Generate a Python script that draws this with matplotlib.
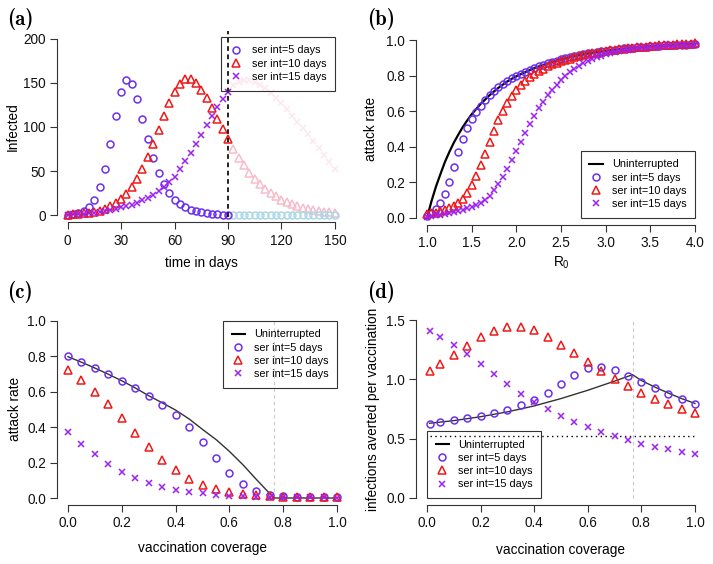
import numpy as np
import matplotlib
matplotlib.use("Agg")
import matplotlib.pyplot as plt
from matplotlib.lines import Line2D

plt.rcParams['font.family'] = ['Liberation Sans', 'DejaVu Sans']
plt.rcParams['mathtext.fontset'] = 'custom'
plt.rcParams['mathtext.rm'] = 'Liberation Sans'
plt.rcParams['mathtext.it'] = 'Liberation Sans:italic'

# ---------------- data ----------------
# (a) epidemic curves
time_dark = list(range(0, 91, 3))
time_light = list(range(93, 151, 3))
inf5_dark = [1, 1.5, 2.5, 5.5, 10, 18, 32, 52, 81, 112, 140, 153, 149, 132, 109, 86, 65,
             48, 35, 25, 18, 13, 9, 6.5, 5, 3.5, 2.5, 2, 1.5, 1, 0.8]
inf5_light = [0.6, 0.5, 0.4, 0.3, 0.25, 0.2, 0.15, 0.12, 0.1, 0.08, 0.06, 0.05, 0.04,
              0.03, 0.02, 0.02, 0.01, 0.01, 0.01, 0.01]
inf10_dark = [1, 1.1, 1.5, 2.2, 3, 4, 5.5, 7.5, 10.5, 14, 18.5, 24, 32, 41, 53, 66.5, 81,
              97, 112.5, 127.5, 140, 149, 154, 154, 150, 141.5, 133, 121.5, 109, 98, 86]
inf10_light = [75.5, 65.5, 56.5, 48.5, 41.5, 35.5, 30, 25.5, 21.5, 18, 15, 12.5, 10.5,
               8.7, 7.2, 6, 5, 4.2, 3.4, 2.8]
inf15_dark = [0.8, 1.1, 1.5, 2, 2.6, 3.3, 4.2, 5.2, 6.3, 7.6, 9, 10.5, 12.3, 14.5, 17, 20,
              23.5, 27.5, 32, 37.5, 44, 52, 61, 70.5, 80.5, 91, 102, 113, 122.5, 131.5, 140]
inf15_light = [147, 151, 153, 153, 151, 148, 144, 139, 133, 127, 120, 113, 106, 99, 92,
               84, 76, 68, 60, 52]

# (b) attack rate vs R0
R0 = np.round(np.arange(1.0, 4.0001, 0.05), 2)
ar5 = [0.01, 0.026, 0.05, 0.082, 0.132, 0.2, 0.285, 0.368, 0.443, 0.505, 0.557, 0.597,
       0.632, 0.664, 0.69, 0.714, 0.735, 0.754, 0.77, 0.785, 0.798, 0.81, 0.822, 0.833,
       0.843, 0.852, 0.861, 0.869, 0.877, 0.884, 0.891, 0.898, 0.904, 0.91, 0.915, 0.92,
       0.925, 0.929, 0.933, 0.937, 0.94, 0.944, 0.947, 0.95, 0.953, 0.955, 0.958, 0.96,
       0.962, 0.964, 0.966, 0.967, 0.969, 0.97, 0.971, 0.972, 0.973, 0.974, 0.975, 0.976,
       0.977]
ar10 = [0.02, 0.025, 0.03, 0.037, 0.045, 0.055, 0.068, 0.085, 0.108, 0.138, 0.185, 0.238,
        0.3, 0.362, 0.425, 0.49, 0.548, 0.6, 0.646, 0.685, 0.718, 0.746, 0.77, 0.792, 0.81,
        0.826, 0.84, 0.852, 0.863, 0.872, 0.881, 0.889, 0.896, 0.903, 0.909, 0.915, 0.92,
        0.925, 0.93, 0.934, 0.938, 0.942, 0.945, 0.948, 0.951, 0.954, 0.957, 0.959, 0.962,
        0.964, 0.966, 0.968, 0.97, 0.972, 0.973, 0.975, 0.976, 0.978, 0.979, 0.98, 0.981]
ar15 = [0.005, 0.01, 0.014, 0.018, 0.022, 0.027, 0.032, 0.038, 0.045, 0.053, 0.062, 0.073,
        0.086, 0.103, 0.125, 0.155, 0.19, 0.23, 0.277, 0.326, 0.376, 0.428, 0.48, 0.53,
        0.575, 0.616, 0.654, 0.69, 0.72, 0.748, 0.773, 0.797, 0.818, 0.837, 0.854, 0.869,
        0.882, 0.894, 0.904, 0.913, 0.921, 0.927, 0.933, 0.938, 0.942, 0.946, 0.95, 0.953,
        0.956, 0.958, 0.96, 0.962, 0.964, 0.966, 0.967, 0.969, 0.97, 0.971, 0.972, 0.973,
        0.974]
R0_line = [1.0, 1.05, 1.1, 1.15, 1.2, 1.25, 1.3, 1.35, 1.4, 1.45, 1.5, 1.6, 1.7, 1.8, 1.9,
           2.0, 2.2, 2.4, 2.6, 2.8, 3.0, 3.25, 3.5, 3.75, 4.0]
ar_line = [0, 0.094, 0.176, 0.246, 0.314, 0.371, 0.423, 0.468, 0.511, 0.548, 0.583, 0.641,
           0.690, 0.732, 0.768, 0.797, 0.843, 0.877, 0.905, 0.925, 0.940, 0.954, 0.966,
           0.974, 0.980]

# (c) attack rate vs vaccination coverage
vc = np.round(np.arange(0, 1.0001, 0.05), 2)
c5 = [0.799, 0.767, 0.733, 0.697, 0.66, 0.618, 0.573, 0.524, 0.466, 0.398, 0.316, 0.226,
      0.141, 0.079, 0.041, 0.019, 0.009, 0.006, 0.005, 0.004, 0.003]
c10 = [0.72, 0.665, 0.6, 0.528, 0.451, 0.368, 0.289, 0.216, 0.156, 0.109, 0.075, 0.051,
       0.034, 0.023, 0.016, 0.011, 0.007, 0.005, 0.004, 0.003, 0.003]
c15 = [0.372, 0.306, 0.246, 0.192, 0.148, 0.113, 0.086, 0.062, 0.047, 0.036, 0.026, 0.019,
       0.013, 0.01, 0.008, 0.006, 0.005, 0.004, 0.003, 0.003, 0.002]
vc_line = [0, 0.05, 0.1, 0.15, 0.2, 0.25, 0.3, 0.35, 0.4, 0.45, 0.5, 0.55, 0.6, 0.65, 0.7,
           0.75, 0.767, 0.8, 0.9, 1.0]
c_line = [0.797, 0.766, 0.733, 0.698, 0.661, 0.621, 0.577, 0.537, 0.496, 0.446, 0.387,
          0.33, 0.263, 0.188, 0.105, 0.025, 0, 0, 0, 0]
v_crit = 0.767

# (d) infections averted per vaccination
vd = [0.01] + list(np.round(np.arange(0.05, 1.0001, 0.05), 2))
d5 = [0.626, 0.638, 0.654, 0.671, 0.692, 0.714, 0.744, 0.781, 0.824, 0.885, 0.961, 1.038,
      1.093, 1.104, 1.08, 1.031, 0.979, 0.927, 0.879, 0.836, 0.793]
d10 = [1.07, 1.13, 1.203, 1.282, 1.353, 1.41, 1.443, 1.443, 1.415, 1.361, 1.292, 1.219,
       1.142, 1.07, 1.002, 0.941, 0.885, 0.834, 0.793, 0.752, 0.715]
d15 = [1.405, 1.358, 1.288, 1.211, 1.126, 1.042, 0.961, 0.88, 0.807, 0.748, 0.689, 0.639,
       0.596, 0.554, 0.52, 0.487, 0.458, 0.431, 0.41, 0.389, 0.368]
vd_line = [0.01, 0.1, 0.2, 0.3, 0.4, 0.5, 0.6, 0.7, 0.767, 0.8, 0.85, 0.9, 0.95, 1.0]
d_line = [0.63, 0.652, 0.685, 0.726, 0.776, 0.838, 0.908, 0.985, 1.039, 0.99, 0.935, 0.885,
          0.838, 0.797]
d_ref = 0.52

labels = ['ser int=5 days', 'ser int=10 days', 'ser int=15 days']

# ---------------- style ----------------
C5 = '#6a2ff0'
C10 = '#f01818'
C15 = '#a020f0'
L5 = '#add8e6'
L10 = '#f8bccb'
L15 = '#fde8ee'
AX = '#333333'

W, H = 713, 564
fig = plt.figure(figsize=(W / 100, H / 100), dpi=100)


def make_ax(left, right, top, bottom):
    return fig.add_axes([left / W, 1 - bottom / H, (right - left) / W, (bottom - top) / H])


def style(ax, xt, yt, xfmt, yfmt):
    for s in ['top', 'right']:
        ax.spines[s].set_visible(False)
    for s in ['left', 'bottom']:
        ax.spines[s].set_color(AX)
        ax.spines[s].set_linewidth(0.8)
    ax.spines['bottom'].set_bounds(xt[0], xt[-1])
    ax.spines['left'].set_bounds(yt[0], yt[-1])
    ax.set_xticks(xt)
    ax.set_yticks(yt)
    ax.set_xticklabels([xfmt.format(v) for v in xt])
    ax.set_yticklabels([yfmt.format(v) for v in yt])
    ax.tick_params(direction='out', length=5, width=0.8, color=AX, labelsize=9.8,
                   pad=3, labelcolor='#111111')


mk = dict(linestyle='none', markerfacecolor='none', markeredgewidth=1.1)


def legend(ax, with_line, anchor, loc):
    handles = []
    if with_line:
        handles.append(Line2D([], [], color='black', lw=1.5))
    handles += [Line2D([], [], marker='o', color=C5, markersize=5, **mk),
                Line2D([], [], marker='^', color=C10, markersize=6, **mk),
                Line2D([], [], marker='x', color=C15, markersize=5, **mk)]
    labs = (['Uninterrupted'] if with_line else []) + labels
    lg = ax.legend(handles, labs, loc=loc, bbox_to_anchor=anchor,
                   bbox_transform=ax.transData, borderaxespad=0, fontsize=7.8,
                   frameon=True, fancybox=False, edgecolor=AX,
                   handlelength=1.25, handletextpad=0.8,
                   borderpad=0.8, labelspacing=0.3)
    fr = lg.get_frame()
    fr.set_alpha(None)
    fr.set_linewidth(0.8)
    fr.set_facecolor('none')
    fr.set_edgecolor(AX)
    return lg


# ---------------- (a) ----------------
ax = make_ax(57, 345.5, 31.5, 222.5)
ax.plot(time_light, inf15_light, marker='x', color=L15, markersize=5, **mk)
ax.plot(time_light, inf10_light, marker='^', color=L10, markersize=6, **mk)
ax.plot(time_light, inf5_light, marker='o', color=L5, markersize=5, **mk)
ax.plot(time_dark, inf5_dark, marker='o', color=C5, markersize=5, **mk)
ax.plot(time_dark, inf10_dark, marker='^', color=C10, markersize=6, **mk)
ax.plot(time_dark, inf15_dark, marker='x', color=C15, markersize=5, **mk)
ax.vlines(90, -2, 208, colors='#111111', linestyles=(0, (2.6, 2.0)), lw=1.3)
ax.set_xlim(-6, 156)
ax.set_ylim(-8, 208)
style(ax, [0, 30, 60, 90, 120, 150], [0, 50, 100, 150, 200], '{:d}', '{:d}')
ax.set_xlabel('time in days', fontsize=9.8)
ax.set_ylabel('Infected', fontsize=9.8)
ax.xaxis.set_label_coords(0.5, -0.175)
ax.yaxis.set_label_coords(-0.128, 0.5)
legend(ax, False, (150, 202), 'upper right')

# ---------------- (b) ----------------
ax = make_ax(416.3, 705.7, 33, 225)
ax.plot(R0_line, ar_line, color='black', lw=1.6)
ax.plot(R0, ar5, marker='o', color=C5, markersize=5, **mk)
ax.plot(R0, ar10, marker='^', color=C10, markersize=6, **mk)
ax.plot(R0, ar15, marker='x', color=C15, markersize=5, **mk)
ax.set_xlim(0.88, 4.12)
ax.set_ylim(-0.04, 1.04)
style(ax, [1.0, 1.5, 2.0, 2.5, 3.0, 3.5, 4.0], [0, 0.2, 0.4, 0.6, 0.8, 1.0], '{:.1f}', '{:.1f}')
ax.set_xlabel(r'$\mathregular{R_0}$', fontsize=9.8)
ax.set_ylabel('attack rate', fontsize=9.8)
ax.xaxis.set_label_coords(0.5, -0.155)
ax.yaxis.set_label_coords(-0.132, 0.5)
legend(ax, True, (4.0, 0.0), 'lower right')

# ---------------- (c) ----------------
ax = make_ax(57.2, 347.8, 313.6, 505.1)
ax.vlines(v_crit, 0, 1.0, colors='#c8c8c8', linestyles=(0, (3, 3)), lw=0.8)
ax.plot(vc_line, c_line, color=AX, lw=1.0)
ax.plot(vc, c5, marker='o', color=C5, markersize=5, **mk)
ax.plot(vc, c10, marker='^', color=C10, markersize=6, **mk)
ax.plot(vc, c15, marker='x', color=C15, markersize=5, **mk)
ax.set_xlim(-0.04, 1.04)
ax.set_ylim(-0.04, 1.04)
style(ax, [0, 0.2, 0.4, 0.6, 0.8, 1.0], [0, 0.2, 0.4, 0.6, 0.8, 1.0], '{:.1f}', '{:.1f}')
ax.set_xlabel('vaccination coverage', fontsize=9.8)
ax.set_ylabel('attack rate', fontsize=9.8)
ax.xaxis.set_label_coords(0.5, -0.19)
ax.yaxis.set_label_coords(-0.121, 0.5)
legend(ax, True, (1.0, 1.0), 'upper right')

# ---------------- (d) ----------------
ax = make_ax(416.3, 705.7, 312.9, 505.1)
ax.vlines(v_crit, 0, 1.5, colors='#c8c8c8', linestyles=(0, (3, 3)), lw=0.8)
ax.hlines(d_ref, 0.01, 1.0, colors='black', linestyles=(0, (1, 2.5)), lw=1.0)
ax.plot(vd_line, d_line, color=AX, lw=1.0)
ax.plot(vd, d5, marker='o', color=C5, markersize=5, **mk)
ax.plot(vd, d10, marker='^', color=C10, markersize=6, **mk)
ax.plot(vd, d15, marker='x', color=C15, markersize=5, **mk)
ax.set_xlim(-0.04, 1.04)
ax.set_ylim(-0.06, 1.56)
style(ax, [0, 0.2, 0.4, 0.6, 0.8, 1.0], [0, 0.5, 1.0, 1.5], '{:.1f}', '{:.1f}')
ax.set_xlabel('vaccination coverage', fontsize=9.8)
ax.set_ylabel('infections averted per vaccination', fontsize=9.8)
ax.xaxis.set_label_coords(0.5, -0.195)
ax.yaxis.set_label_coords(-0.125, 0.5)
legend(ax, True, (0.0, 0.0), 'lower left')

# panel labels
for lab, x, y in [('(a)', 7, 8), ('(b)', 367, 8), ('(c)', 7, 281), ('(d)', 367, 281)]:
    fig.text(x / W, 1 - y / H, lab, family=['cmb10', 'DejaVu Serif'], fontsize=15,
             ha='left', va='top')

fig.savefig('out.png', dpi=100)
